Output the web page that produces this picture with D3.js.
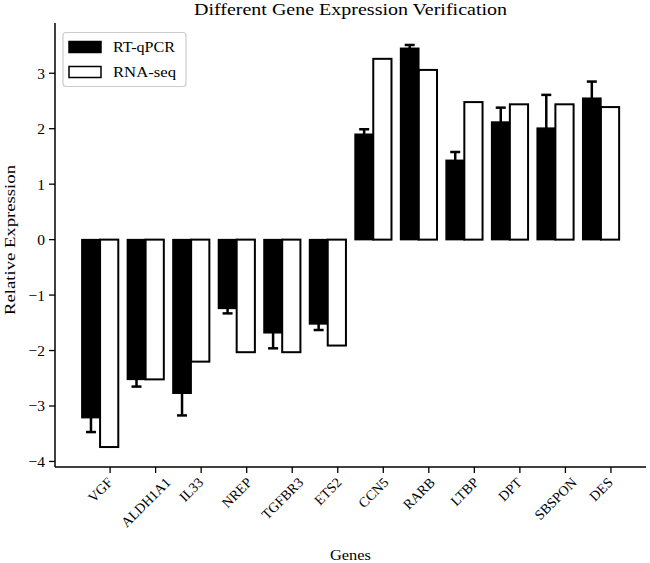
<!DOCTYPE html>
<html><head><meta charset="utf-8">
<script src="https://cdn.jsdelivr.net/npm/d3@7"></script>
<style>body{margin:0;background:#fff}text{font-family:"Liberation Serif","Times New Roman",serif;fill:#000}</style>
</head><body><svg id="c" width="650" height="563"></svg>
<script>
const genes = ["VGF","ALDH1A1","IL33","NREP","TGFBR3","ETS2","CCN5","RARB","LTBP","DPT","SBSPON","DES"];
const qpcr = [-3.21,-2.52,-2.77,-1.24,-1.68,-1.52,1.90,3.45,1.43,2.12,2.01,2.55];
const qpcrErr = [0.26,0.13,0.40,0.09,0.28,0.11,0.09,0.06,0.15,0.26,0.60,0.30];
const rnaseq = [-3.74,-2.52,-2.20,-2.03,-2.03,-1.91,3.26,3.06,2.48,2.44,2.44,2.39];
const yTicks = [-4,-3,-2,-1,0,1,2,3];
const seriesNames = ["RT-qPCR","RNA-seq"];

const svg = d3.select("#c");
const L = 55, R = 646, T = 25, B = 467;
const barW = 0.4;
const x = d3.scaleLinear().domain([-0.79, 12.19]).range([L, R]);
const y = d3.scaleLinear().domain([-4.1, 3.87]).range([B, T]);

// bars
const g = svg.append("g");
g.selectAll("rect.q").data(qpcr).join("rect")
  .attr("x", (d,i)=>x(i-barW/2)).attr("width", x(barW)-x(0))
  .attr("y", d=>y(Math.max(0,d))).attr("height", d=>Math.abs(y(d)-y(0)))
  .attr("fill","#000").attr("stroke","#000").attr("stroke-width",1.5);
g.selectAll("rect.r").data(rnaseq).join("rect")
  .attr("x", (d,i)=>x(i+barW/2)).attr("width", x(barW)-x(0))
  .attr("y", d=>y(Math.max(0,d))).attr("height", d=>Math.abs(y(d)-y(0)))
  .attr("fill","#fff").attr("stroke","#000").attr("stroke-width",2);

// error bars
const eb = g.selectAll("g.eb").data(qpcr).join("g");
eb.append("line")
  .attr("x1",(d,i)=>x(i)).attr("x2",(d,i)=>x(i))
  .attr("y1",(d,i)=>y(d-qpcrErr[i])).attr("y2",(d,i)=>y(d+qpcrErr[i]))
  .attr("stroke","#000").attr("stroke-width",2.5);
[-1,1].forEach(s=>{
  eb.append("line")
    .attr("x1",(d,i)=>x(i)-5).attr("x2",(d,i)=>x(i)+5)
    .attr("y1",(d,i)=>y(d+s*qpcrErr[i])).attr("y2",(d,i)=>y(d+s*qpcrErr[i]))
    .attr("stroke","#000").attr("stroke-width",2.5);
});

// axes
const ax = svg.append("g");
ax.append("line").attr("x1",L).attr("x2",L).attr("y1",T-2).attr("y2",B).attr("stroke","#000").attr("stroke-width",1.5);
ax.append("line").attr("x1",L).attr("x2",R).attr("y1",B).attr("y2",B).attr("stroke","#000").attr("stroke-width",1.5);
const yt = ax.selectAll("g.yt").data(yTicks).join("g").attr("transform",d=>`translate(${L},${y(d)})`);
yt.append("line").attr("x1",-6).attr("x2",0).attr("stroke","#000").attr("stroke-width",1.3);
yt.append("text").attr("x",-10).attr("dy","0.35em").attr("text-anchor","end").attr("font-size",15.5)
  .text(d=>d3.format("d")(d));
const tickOff = 0.42;
const xt = ax.selectAll("g.xt").data(genes).join("g").attr("transform",(d,i)=>`translate(${x(i+tickOff)},${B})`);
xt.append("line").attr("y1",0).attr("y2",6).attr("stroke","#000").attr("stroke-width",1.3);
xt.each(function(d){
  const gg = d3.select(this);
  const t = gg.append("text").attr("font-size",14).attr("text-anchor","middle").attr("dy","0.35em").text(d);
  const len = t.node().getComputedTextLength();
  const h = 11;
  const H = (len + h) * Math.SQRT1_2;
  t.attr("transform",`translate(${-10},${9 + H/2}) rotate(-45)`);
});

// labels
svg.append("text").attr("x",(L+R)/2).attr("y",15).attr("text-anchor","middle").attr("font-size",16)
  .attr("textLength",313).attr("lengthAdjust","spacingAndGlyphs")
  .text("Different Gene Expression Verification");
svg.append("text").attr("x",(L+R)/2).attr("y",560).attr("text-anchor","middle").attr("font-size",15)
  .attr("textLength",41).attr("lengthAdjust","spacingAndGlyphs").text("Genes");
svg.append("text").attr("transform",`translate(15,240) rotate(-90)`).attr("text-anchor","middle").attr("font-size",15)
  .attr("textLength",150).attr("lengthAdjust","spacingAndGlyphs")
  .text("Relative Expression");

// legend
const lg = svg.append("g");
lg.append("rect").attr("x",63).attr("y",32.5).attr("width",123).attr("height",54).attr("rx",3)
  .attr("fill","#fff").attr("stroke","#ccc").attr("stroke-width",1.2);
const legLen = [62, 63];
seriesNames.forEach((n,i)=>{
  const yy = 47 + i*25;
  lg.append("rect").attr("x",69).attr("y",yy-5.5).attr("width",32).attr("height",11)
    .attr("fill", i===0?"#000":"#fff").attr("stroke","#000").attr("stroke-width",1.5);
  lg.append("text").attr("x",113).attr("y",yy).attr("dy","0.35em").attr("font-size",15.5)
    .attr("textLength",legLen[i]).attr("lengthAdjust","spacingAndGlyphs").text(n);
});
</script></body></html>
